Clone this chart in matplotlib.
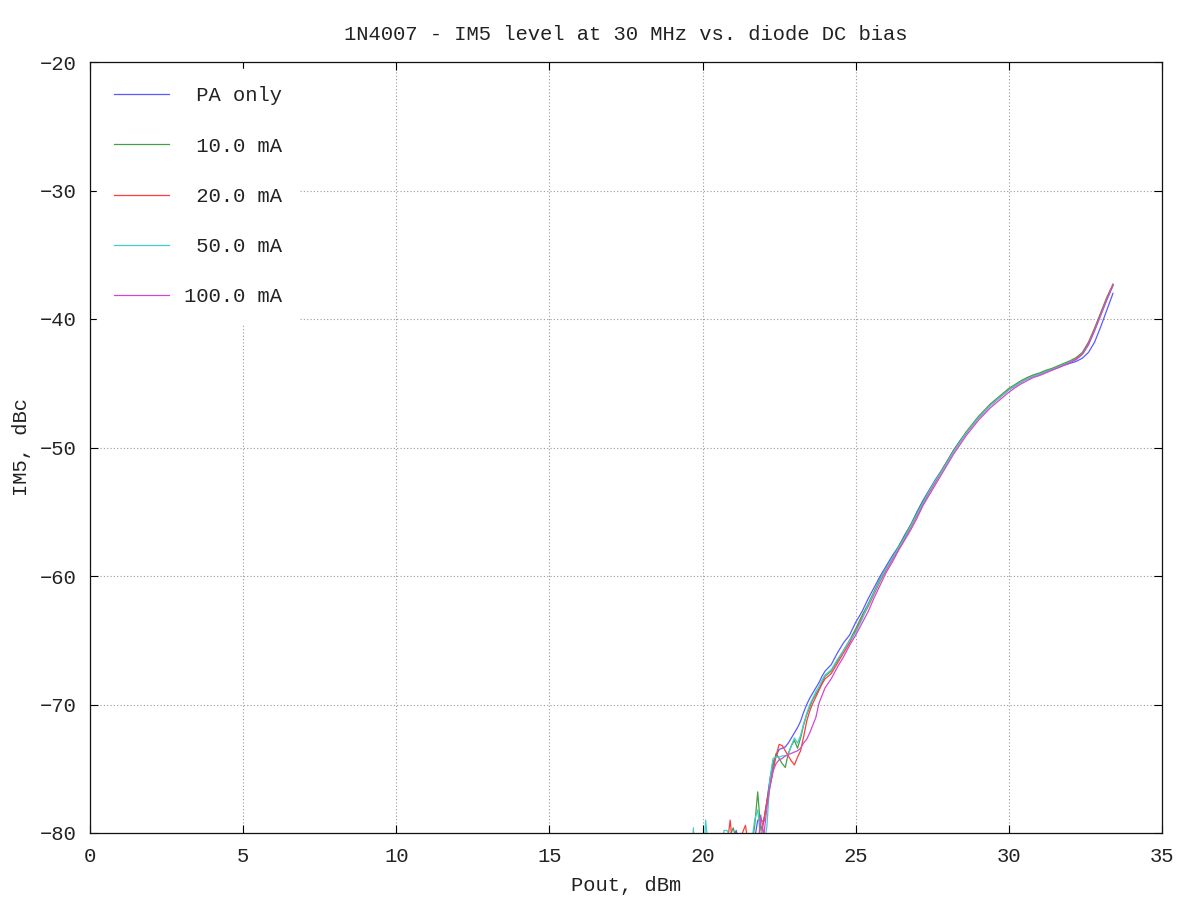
import matplotlib
matplotlib.use("Agg")
import matplotlib.pyplot as plt

# ---------------- data ----------------
pout = [19.6, 19.7, 19.8, 19.9, 20.0, 20.1, 20.2, 20.3, 20.4, 20.5,
        20.6, 20.7, 20.8, 20.9, 21.0, 21.1, 21.2, 21.3, 21.4, 21.5,
        21.6, 21.7, 21.8, 21.9, 22.0, 22.1, 22.2, 22.3, 22.4, 22.5,
        22.6, 22.7, 22.8, 22.9, 23.0, 23.1, 23.2, 23.3, 23.4, 23.5,
        23.6, 23.7, 23.8, 23.9, 24.0,
        24.2, 24.4, 24.6, 24.8, 25.0, 25.2, 25.4, 25.6, 25.8, 26.0,
        26.2, 26.4, 26.6, 26.8, 27.0, 27.2, 27.4, 27.6, 27.8, 28.0,
        28.2, 28.4, 28.6, 28.8, 29.0, 29.2, 29.4, 29.6, 29.8, 30.0,
        30.2, 30.4, 30.6, 30.8, 31.0, 31.2, 31.4, 31.6, 31.8, 32.0,
        32.2, 32.4, 32.6, 32.8, 33.0, 33.2, 33.4]

im5_pa_only = [-85, -84, -85, -84, -85, -84, -85, -84, -85, -84,
               -85, -83, -82, -81, -80.3, -79.8, -81, -83, -84, -83,
               -82, -80.5, -79.0, -79.0, -79.1, -77.5, -75.8, -74.5, -74.0, -73.5,
               -73.4, -73.3, -73.0, -72.6, -72.2, -71.8, -71.3, -70.6, -70.0, -69.5,
               -69.1, -68.7, -68.3, -67.8, -67.4,
               -66.9, -66.0, -65.2, -64.6, -63.6, -62.8, -61.8, -60.9, -60.0, -59.2,
               -58.4, -57.7, -56.8, -56.0, -55.0, -54.1, -53.3, -52.5, -51.8, -51.0,
               -50.2, -49.5, -48.9, -48.3, -47.7, -47.2, -46.7, -46.3, -45.9, -45.5,
               -45.2, -44.9, -44.65, -44.45, -44.3, -44.1, -43.95, -43.8, -43.6, -43.45,
               -43.3, -43.05, -42.6, -41.8, -40.6, -39.3, -38.0]

im5_10ma = [-85, -84, -85, -84, -85, -84, -85, -84, -85, -84,
            -83, -82, -81, -80.2, -79.6, -80.5, -83, -84, -83, -82,
            -81, -79.5, -76.8, -79.8, -79.0, -77.6, -76.0, -74.8, -73.8, -74.2,
            -74.6, -74.9, -73.8, -73.2, -72.8, -73.4, -72.6, -71.6, -70.8, -70.2,
            -69.6, -69.2, -68.8, -68.3, -67.8,
            -67.4, -66.6, -65.8, -65.0, -64.1, -63.1, -62.2, -61.2, -60.2, -59.4,
            -58.6, -57.7, -56.9, -56.0, -55.1, -54.2, -53.4, -52.6, -51.8, -51.0,
            -50.2, -49.5, -48.8, -48.2, -47.6, -47.1, -46.6, -46.2, -45.8, -45.4,
            -45.1, -44.8, -44.55, -44.35, -44.2, -44.0, -43.85, -43.65, -43.45, -43.25,
            -43.0, -42.6, -41.8, -40.7, -39.5, -38.3, -37.3]

im5_20ma = [-85, -84, -85, -84, -85, -84, -85, -84, -85, -84,
            -83, -82, -81, -79.0, -81.5, -80.3, -80.6, -80.0, -79.4, -81.0,
            -83, -83, -82, -80.5, -79.0, -77.6, -76.4, -75.2, -74.0, -73.1,
            -73.2, -73.6, -74.0, -74.4, -74.7, -74.1, -73.6, -72.5, -71.3, -70.5,
            -69.9, -69.4, -68.9, -68.4, -68.0,
            -67.6, -66.8, -66.0, -65.2, -64.3, -63.3, -62.4, -61.4, -60.4, -59.5,
            -58.7, -57.9, -57.1, -56.2, -55.3, -54.4, -53.5, -52.7, -51.9, -51.1,
            -50.3, -49.6, -48.9, -48.3, -47.7, -47.2, -46.7, -46.3, -45.9, -45.5,
            -45.2, -44.9, -44.65, -44.45, -44.3, -44.1, -43.95, -43.75, -43.55, -43.35,
            -43.1, -42.7, -41.9, -40.8, -39.6, -38.4, -37.3]

im5_50ma = [-85, -79.6, -84, -85, -84, -79.0, -81.5, -84, -85, -84,
            -82, -79.8, -79.8, -80.3, -82, -84, -85, -84, -83, -82,
            -80.8, -79.0, -78.2, -80.5, -81.0, -79.5, -75.8, -74.2, -74.1, -74.1,
            -74.0, -74.0, -73.9, -73.2, -72.6, -73.0, -72.4, -71.5, -70.7, -70.0,
            -69.5, -69.0, -68.6, -68.1, -67.7,
            -67.3, -66.5, -65.8, -65.0, -64.4, -63.4, -62.3, -61.3, -60.3, -59.4,
            -58.6, -57.8, -57.0, -56.1, -55.2, -54.3, -53.4, -52.6, -51.9, -51.1,
            -50.3, -49.6, -48.9, -48.3, -47.7, -47.2, -46.7, -46.3, -45.9, -45.5,
            -45.2, -44.9, -44.65, -44.45, -44.3, -44.1, -43.95, -43.75, -43.55, -43.35,
            -43.15, -42.75, -42.0, -40.9, -39.7, -38.5, -37.4]

im5_100ma = [-85, -84, -85, -84, -85, -84, -85, -84, -85, -84,
             -83, -82, -80.8, -80.3, -81, -80.2, -82, -84, -83, -82,
             -81, -80.5, -81.5, -78.6, -80.2, -78.0, -76.4, -75.2, -74.6, -74.3,
             -74.2, -74.0, -73.9, -73.8, -73.7, -73.6, -73.4, -73.0, -72.7, -72.2,
             -71.6, -71.0, -69.9, -69.3, -68.7,
             -68.0, -67.1, -66.3, -65.4, -64.6, -63.7, -62.8, -61.7, -60.7, -59.7,
             -58.9, -58.0, -57.2, -56.4, -55.5, -54.5, -53.7, -52.9, -52.1, -51.3,
             -50.5, -49.8, -49.1, -48.5, -47.9, -47.4, -46.9, -46.5, -46.1, -45.7,
             -45.35, -45.05, -44.8, -44.55, -44.4, -44.2, -44.0, -43.8, -43.6, -43.4,
             -43.15, -42.75, -42.0, -40.9, -39.7, -38.5, -37.4]

labels = ["PA only", "10.0 mA", "20.0 mA", "50.0 mA", "100.0 mA"]
series = [im5_pa_only, im5_10ma, im5_20ma, im5_50ma, im5_100ma]
colors = ["#5a5aff", "#44a044", "#ff3c3c", "#44cccc", "#d048d0"]

xticks = [0, 5, 10, 15, 20, 25, 30, 35]
yticks = [-80, -70, -60, -50, -40, -30, -20]

# ---------------- plot ----------------
FONT = "Liberation Mono"
FS = 14.8
TXT = "#222222"
plt.rcParams["font.family"] = [FONT, "DejaVu Sans Mono"]

fig = plt.figure(figsize=(12, 9), dpi=100)
ax = fig.add_axes([90 / 1200, 67 / 900, 1072 / 1200, 771 / 900])

width = max(len(s) for s in labels)
for y, lab, c in zip(series, labels, colors):
    ax.plot(pout, y, color=c, lw=0.9, label=lab.rjust(width))

ax.set_xlim(0, 35)
ax.set_ylim(-80, -20)
ax.set_xticks(xticks)
ax.set_yticks(yticks)
ax.set_xticklabels([str(v) for v in xticks])
ax.set_yticklabels([str(v).replace("-", "\u2212") for v in yticks])

ax.grid(True, color="#9a9a9a", linestyle=(0, (1, 2)), lw=0.8)
ax.set_axisbelow(True)
ax.tick_params(direction="in", length=6, width=0.8, top=True, right=True,
               labelsize=FS, labelcolor=TXT, pad=10)
for sp in ax.spines.values():
    sp.set_linewidth(0.9)
    sp.set_color("#111111")

ax.set_title("1N4007 - IM5 level at 30 MHz vs. diode DC bias",
             fontsize=FS, color=TXT, pad=16)
ax.set_xlabel("Pout, dBm", fontsize=FS, color=TXT, labelpad=7)
ax.set_ylabel("IM5, dBc", fontsize=FS, color=TXT, labelpad=6)

leg = ax.legend(loc="upper left", frameon=True, fancybox=False,
                facecolor="white", edgecolor="white", framealpha=1.0,
                fontsize=FS, labelspacing=1.52, handlelength=2.67,
                handletextpad=0.7, borderpad=0.83, borderaxespad=0.35)
for t in leg.get_texts():
    t.set_color(TXT)

fig.savefig("out.png", dpi=100)
